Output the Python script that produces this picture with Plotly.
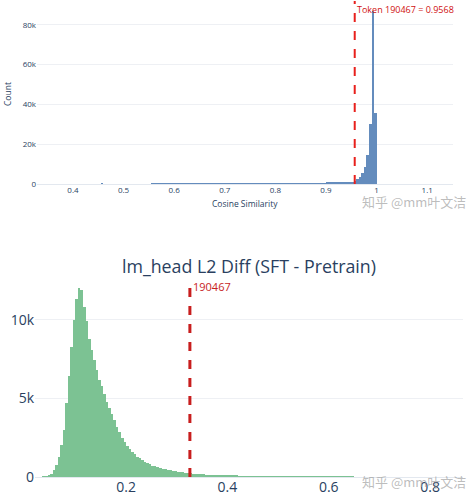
import plotly.graph_objects as go

# ---------------- data ----------------
# Top: cosine similarity histogram (bin width 0.005, left edges)
cos_bin_width = 0.005
cos_sparse_left = [0.455, 0.555]
cos_sparse_counts = [90, 70]
cos_start = 0.560
cos_counts = [
    90, 110, 100, 120, 110, 100, 120, 130,
    120, 130, 120, 140, 130, 120, 140, 150, 140, 130, 150, 140, 150, 160, 150, 140, 160, 150, 160, 170,
    160, 170, 160, 180, 170, 180, 170, 190, 180, 190, 200, 190, 200, 210, 200, 210, 220, 210, 230, 220,
    230, 240, 230, 250, 260, 250, 270, 280, 270, 290, 300, 310, 320, 330, 340, 360, 380, 400, 420, 450,
    520, 560, 600, 640, 680, 720, 760, 820, 880, 950,
    1100, 1600, 2400, 3700, 5600, 8300, 14800, 30000, 87000, 35600,
]
cos_token_value = 0.9568
cos_token_label = "Token 190467 = 0.9568"

# Bottom: lm_head L2 diff histogram (bin width 0.005, left edges)
l2_bin_width = 0.005
l2_start = 0.035
l2_counts = [
    20, 40, 90, 170, 430, 750, 1250, 2050, 3000, 4700,
    6400, 8300, 10000, 11300, 12000, 11900, 10800, 9900, 8800, 8100,
    7450, 6800, 6200, 5800, 5300, 4800, 4400, 4000, 3600, 3200,
    2850, 2500, 2250, 2000, 1800, 1600, 1450, 1300, 1180, 1060,
    970, 880, 800, 730, 670, 620, 570, 530, 490, 460,
    430, 400, 370, 350, 320, 300, 280, 260, 240, 220,
    200, 190, 170, 160, 150, 140, 130, 120, 110, 100,
    100, 90, 90, 80, 80, 70, 70, 60,
    60, 55, 50, 50, 45, 45, 40, 40, 38, 35,
    35, 32, 30, 30, 28, 26, 25, 24, 22, 20,
    20, 19, 18, 17, 16, 15, 15, 14, 13, 12,
    12, 11, 10, 10, 9, 9, 8, 8, 7, 7,
    6, 6, 5, 5, 5,
]
l2_token_value = 0.326
l2_token_label = "190467"
l2_title = "lm_head L2 Diff (SFT - Pretrain)"

top_x_title = "Cosine Similarity"
top_y_title = "Count"
top_xticks = [0.4, 0.5, 0.6, 0.7, 0.8, 0.9, 1.0, 1.1]
top_xticktext = ["0.4", "0.5", "0.6", "0.7", "0.8", "0.9", "1", "1.1"]
top_yticks = [0, 20000, 40000, 60000, 80000]
top_yticktext = ["0", "20k", "40k", "60k", "80k"]
bot_xticks = [0.2, 0.4, 0.6, 0.8]
bot_xticktext = ["0.2", "0.4", "0.6", "0.8"]
bot_yticks = [0, 5000, 10000]
bot_yticktext = ["0", "5k", "10k"]

watermark = "知乎 @mm叶文洁"

# ---------------- build ----------------
cos_left = cos_sparse_left + [round(cos_start + i * cos_bin_width, 4) for i in range(len(cos_counts))]
cos_vals = cos_sparse_counts + cos_counts
cos_x = [l + cos_bin_width / 2 for l in cos_left]

l2_left = [round(l2_start + i * l2_bin_width, 4) for i in range(len(l2_counts))]
l2_x = [l + l2_bin_width / 2 for l in l2_left]

W, H = 473, 500
def px(x):
    return x / W
def py(y):
    return 1 - y / H

fig = go.Figure()
fig.add_trace(go.Bar(x=cos_x, y=cos_vals, width=cos_bin_width,
                     marker=dict(color="rgb(100,140,189)", line=dict(width=0)),
                     xaxis="x", yaxis="y", showlegend=False))
fig.add_trace(go.Bar(x=l2_x, y=l2_counts, width=l2_bin_width,
                     marker=dict(color="rgb(124,194,147)", line=dict(width=0)),
                     xaxis="x2", yaxis="y2", showlegend=False))

tickc = "#2a3f5f"
fig.update_layout(
    template="plotly_white",
    width=W, height=H,
    margin=dict(l=0, r=0, t=0, b=0, autoexpand=False),
    font=dict(family="Open Sans, Verdana, Arial, sans-serif", color=tickc),
    bargap=0,
    xaxis=dict(domain=[px(37), px(453)], range=[0.329, 1.151], anchor="y", automargin=False,
               tickvals=top_xticks, ticktext=top_xticktext, tickfont=dict(size=8),
               showgrid=False, zeroline=False),
    yaxis=dict(domain=[py(184), py(1)], range=[0, 92000], anchor="x", automargin=False,
               tickvals=top_yticks, ticktext=top_yticktext, tickfont=dict(size=8),
               gridcolor="#eef0f4", zeroline=True, zerolinecolor="#e3e8ef", zerolinewidth=1),
    xaxis2=dict(domain=[px(35), px(463)], range=[0.0203, 0.865], anchor="y2", automargin=False,
                tickvals=bot_xticks, ticktext=bot_xticktext, tickfont=dict(size=14),
                showgrid=False, zeroline=False),
    yaxis2=dict(domain=[py(477), py(279)], range=[0, 12600], anchor="x2", automargin=False,
                tickvals=bot_yticks, ticktext=bot_yticktext, tickfont=dict(size=14),
                gridcolor="#eef0f4", zeroline=True, zerolinecolor="#e3e8ef", zerolinewidth=1),
    title=dict(text=l2_title, x=px(249), y=py(267), xanchor="center", yanchor="middle",
               xref="paper", yref="paper", font=dict(size=17.8, color=tickc)),
)

fig.add_shape(type="line", xref="x", yref="y domain", x0=cos_token_value, x1=cos_token_value,
              y0=0, y1=1, line=dict(color="#e8201c", width=2, dash="dash"))
fig.add_shape(type="line", xref="x2", yref="y2 domain", x0=l2_token_value, x1=l2_token_value,
              y0=0, y1=1, line=dict(color="#c81e1e", width=3, dash="dash"))

fig.add_annotation(x=cos_token_value, xref="x", y=py(9), yref="paper", text=cos_token_label,
                   showarrow=False, xanchor="left", yanchor="middle", xshift=0,
                   font=dict(size=9, color="#d01010"))
fig.add_annotation(x=l2_token_value, xref="x2", y=py(286), yref="paper", text=l2_token_label,
                   showarrow=False, xanchor="left", yanchor="middle", xshift=1,
                   font=dict(size=11, color="#c81e1e"))

# axis titles of the top panel
fig.add_annotation(x=px(245), y=py(204), xref="paper", yref="paper", text=top_x_title,
                   showarrow=False, xanchor="center", yanchor="middle",
                   font=dict(size=8.5, color=tickc))
fig.add_annotation(x=px(8), y=py(94), xref="paper", yref="paper", text=top_y_title,
                   showarrow=False, xanchor="center", yanchor="middle", textangle=-90,
                   font=dict(size=8.5, color=tickc))

for yy in [201, 481]:
    fig.add_annotation(x=px(468), y=py(yy), xref="paper", yref="paper", text=watermark,
                       showarrow=False, xanchor="right", yanchor="middle",
                       font=dict(size=13, color="rgba(160,160,160,0.7)",
                                 family="Noto Sans CJK SC, sans-serif"))

fig.write_html("out.html", config={"displayModeBar": False},
               post_script="document.body.style.margin='0px';")
